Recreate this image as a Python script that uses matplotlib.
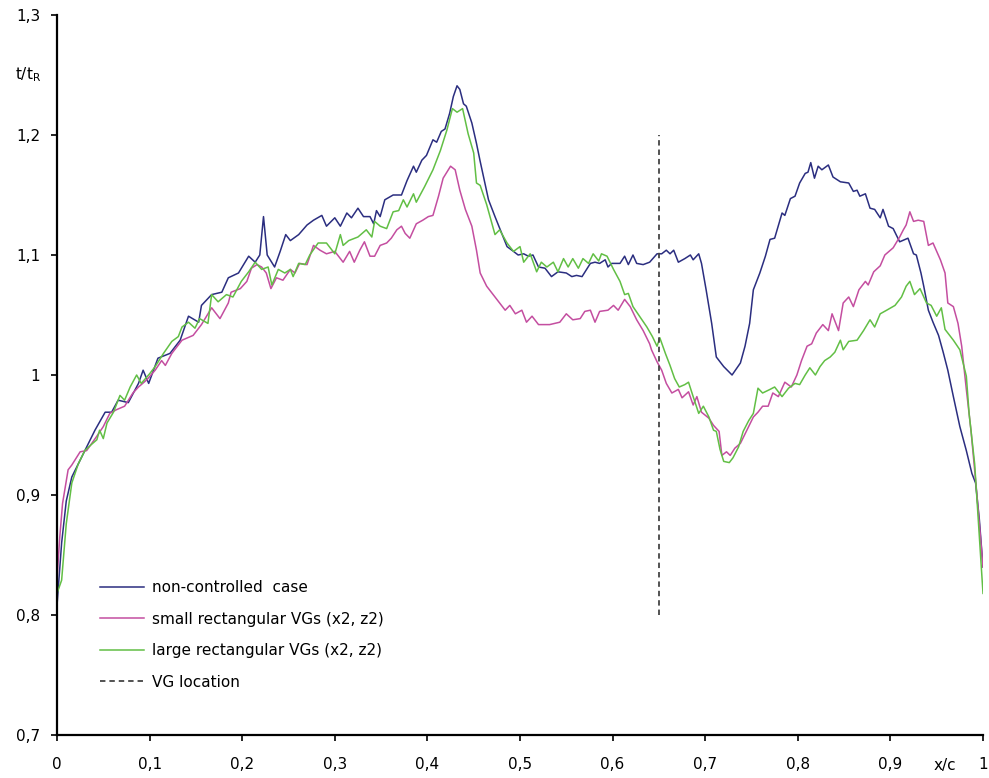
import matplotlib
matplotlib.use("Agg")
import matplotlib.pyplot as plt
from matplotlib.ticker import FuncFormatter, MultipleLocator

# ---------------- data ----------------
blue_x = [0.000, 0.005, 0.010, 0.016, 0.025, 0.034, 0.041, 0.052, 0.059, 0.066, 0.077, 0.088, 0.093, 0.099,
          0.109, 0.122, 0.133, 0.142, 0.153, 0.156, 0.167, 0.178, 0.185, 0.196, 0.207, 0.214, 0.219, 0.223,
          0.227, 0.235, 0.241, 0.247, 0.252, 0.261, 0.270, 0.277, 0.286, 0.291, 0.300, 0.306, 0.313, 0.318,
          0.325, 0.331, 0.338, 0.342, 0.345, 0.349, 0.354, 0.363, 0.372, 0.378, 0.385, 0.388, 0.394, 0.399,
          0.406, 0.410, 0.415, 0.419, 0.424, 0.428, 0.432, 0.435, 0.439, 0.442, 0.448, 0.453, 0.457, 0.466,
          0.473, 0.486, 0.493, 0.498, 0.504, 0.509, 0.514, 0.520, 0.527, 0.534, 0.541, 0.550, 0.556, 0.561,
          0.567, 0.576, 0.581, 0.586, 0.592, 0.595, 0.599, 0.608, 0.613, 0.617, 0.622, 0.626, 0.633, 0.640,
          0.648, 0.653, 0.658, 0.662, 0.666, 0.671, 0.678, 0.684, 0.687, 0.693, 0.696, 0.701, 0.707, 0.712,
          0.720, 0.729, 0.738, 0.743, 0.748, 0.752, 0.759, 0.765, 0.770, 0.775, 0.783, 0.786, 0.792, 0.797,
          0.802, 0.808, 0.811, 0.814, 0.818, 0.822, 0.826, 0.833, 0.838, 0.846, 0.855, 0.860, 0.864, 0.867,
          0.873, 0.878, 0.883, 0.889, 0.892, 0.898, 0.903, 0.910, 0.919, 0.925, 0.928, 0.933, 0.936, 0.941,
          0.946, 0.952, 0.957, 0.962, 0.968, 0.975, 0.982, 0.988, 0.992, 0.996, 1.000]
blue_y = [0.808, 0.860, 0.895, 0.915, 0.929, 0.943, 0.954, 0.969, 0.969, 0.979, 0.977, 0.993, 1.004, 0.993,
          1.014, 1.018, 1.029, 1.049, 1.044, 1.058, 1.067, 1.069, 1.081, 1.085, 1.099, 1.094, 1.100, 1.132,
          1.100, 1.090, 1.103, 1.117, 1.112, 1.117, 1.125, 1.129, 1.133, 1.124, 1.131, 1.124, 1.135, 1.131,
          1.139, 1.132, 1.132, 1.126, 1.137, 1.132, 1.146, 1.150, 1.150, 1.162, 1.174, 1.169, 1.179, 1.183,
          1.196, 1.194, 1.203, 1.205, 1.218, 1.232, 1.241, 1.238, 1.226, 1.224, 1.210, 1.193, 1.178, 1.146,
          1.132, 1.107, 1.103, 1.100, 1.101, 1.099, 1.100, 1.090, 1.089, 1.082, 1.086, 1.085, 1.082, 1.083,
          1.082, 1.093, 1.094, 1.093, 1.096, 1.090, 1.093, 1.093, 1.099, 1.092, 1.100, 1.093, 1.092, 1.094,
          1.101, 1.101, 1.104, 1.101, 1.104, 1.094, 1.097, 1.100, 1.096, 1.101, 1.093, 1.071, 1.043, 1.015,
          1.007, 1.000, 1.010, 1.024, 1.043, 1.071, 1.085, 1.099, 1.113, 1.114, 1.135, 1.133, 1.147, 1.149,
          1.160, 1.168, 1.169, 1.177, 1.164, 1.174, 1.171, 1.175, 1.165, 1.161, 1.160, 1.153, 1.154, 1.149,
          1.151, 1.139, 1.138, 1.131, 1.138, 1.124, 1.122, 1.111, 1.114, 1.101, 1.100, 1.085, 1.074, 1.054,
          1.044, 1.033, 1.019, 1.004, 0.982, 0.957, 0.937, 0.918, 0.910, 0.880, 0.840]

small_x = [0.000, 0.003, 0.006, 0.012, 0.016, 0.025, 0.032, 0.043, 0.050, 0.057, 0.064, 0.073, 0.082, 0.088,
           0.097, 0.106, 0.113, 0.117, 0.124, 0.135, 0.147, 0.156, 0.167, 0.176, 0.185, 0.188, 0.198, 0.205,
           0.210, 0.216, 0.221, 0.226, 0.231, 0.237, 0.244, 0.252, 0.257, 0.262, 0.270, 0.277, 0.284, 0.291,
           0.300, 0.309, 0.316, 0.321, 0.327, 0.332, 0.338, 0.343, 0.349, 0.356, 0.361, 0.367, 0.372, 0.376,
           0.381, 0.388, 0.395, 0.401, 0.406, 0.412, 0.417, 0.425, 0.430, 0.435, 0.441, 0.448, 0.453, 0.457,
           0.464, 0.471, 0.478, 0.484, 0.489, 0.495, 0.502, 0.507, 0.513, 0.520, 0.532, 0.543, 0.550, 0.557,
           0.565, 0.570, 0.576, 0.581, 0.586, 0.595, 0.601, 0.606, 0.613, 0.619, 0.626, 0.633, 0.640, 0.642,
           0.648, 0.653, 0.658, 0.664, 0.671, 0.675, 0.682, 0.687, 0.691, 0.696, 0.704, 0.709, 0.715, 0.718,
           0.723, 0.727, 0.732, 0.738, 0.745, 0.752, 0.757, 0.762, 0.768, 0.773, 0.779, 0.786, 0.793, 0.799,
           0.804, 0.810, 0.815, 0.820, 0.827, 0.833, 0.837, 0.844, 0.849, 0.855, 0.860, 0.866, 0.873, 0.876,
           0.882, 0.889, 0.894, 0.903, 0.910, 0.914, 0.917, 0.921, 0.925, 0.930, 0.936, 0.941, 0.946, 0.954,
           0.959, 0.962, 0.968, 0.973, 0.977, 0.982, 0.987, 0.993, 1.000]
small_y = [0.830, 0.865, 0.893, 0.921, 0.925, 0.936, 0.937, 0.949, 0.957, 0.968, 0.971, 0.974, 0.985, 0.990,
           0.996, 1.004, 1.012, 1.008, 1.018, 1.029, 1.033, 1.042, 1.056, 1.047, 1.060, 1.069, 1.072, 1.078,
           1.089, 1.092, 1.090, 1.085, 1.072, 1.081, 1.079, 1.088, 1.085, 1.093, 1.092, 1.108, 1.104, 1.101,
           1.103, 1.094, 1.103, 1.094, 1.104, 1.111, 1.099, 1.099, 1.108, 1.110, 1.114, 1.121, 1.124, 1.118,
           1.114, 1.126, 1.129, 1.132, 1.133, 1.149, 1.164, 1.174, 1.171, 1.154, 1.138, 1.124, 1.104, 1.085,
           1.074, 1.067, 1.060, 1.054, 1.058, 1.051, 1.054, 1.044, 1.049, 1.042, 1.042, 1.044, 1.051, 1.046,
           1.047, 1.053, 1.054, 1.044, 1.053, 1.054, 1.058, 1.054, 1.063, 1.057, 1.046, 1.037, 1.026, 1.021,
           1.011, 1.004, 0.993, 0.985, 0.988, 0.981, 0.986, 0.975, 0.982, 0.969, 0.964, 0.958, 0.953, 0.933,
           0.936, 0.933, 0.939, 0.943, 0.954, 0.965, 0.969, 0.974, 0.974, 0.985, 0.982, 0.994, 0.990, 1.000,
           1.012, 1.024, 1.026, 1.035, 1.042, 1.037, 1.051, 1.037, 1.060, 1.065, 1.057, 1.071, 1.078, 1.075,
           1.086, 1.091, 1.100, 1.106, 1.115, 1.121, 1.125, 1.136, 1.128, 1.129, 1.128, 1.108, 1.110, 1.096,
           1.085, 1.060, 1.057, 1.043, 1.024, 0.988, 0.954, 0.904, 0.840]

large_x = [0.000, 0.005, 0.010, 0.016, 0.023, 0.030, 0.037, 0.043, 0.046, 0.050, 0.054, 0.061, 0.068, 0.073,
           0.079, 0.086, 0.091, 0.100, 0.106, 0.115, 0.124, 0.131, 0.135, 0.142, 0.149, 0.154, 0.163, 0.167,
           0.174, 0.183, 0.190, 0.199, 0.207, 0.214, 0.221, 0.228, 0.232, 0.239, 0.246, 0.252, 0.255, 0.261,
           0.268, 0.273, 0.282, 0.291, 0.300, 0.306, 0.309, 0.315, 0.325, 0.334, 0.340, 0.343, 0.349, 0.356,
           0.363, 0.369, 0.374, 0.378, 0.385, 0.388, 0.397, 0.406, 0.414, 0.421, 0.427, 0.432, 0.438, 0.444,
           0.450, 0.453, 0.457, 0.464, 0.473, 0.478, 0.486, 0.493, 0.500, 0.504, 0.511, 0.518, 0.523, 0.529,
           0.536, 0.541, 0.547, 0.552, 0.557, 0.563, 0.568, 0.574, 0.579, 0.585, 0.588, 0.594, 0.601, 0.608,
           0.613, 0.617, 0.622, 0.629, 0.637, 0.643, 0.648, 0.651, 0.657, 0.662, 0.667, 0.672, 0.678, 0.682,
           0.687, 0.693, 0.698, 0.704, 0.709, 0.712, 0.716, 0.720, 0.726, 0.730, 0.736, 0.741, 0.747, 0.752,
           0.757, 0.762, 0.770, 0.775, 0.783, 0.790, 0.797, 0.802, 0.808, 0.813, 0.819, 0.824, 0.829, 0.835,
           0.840, 0.846, 0.849, 0.855, 0.864, 0.871, 0.878, 0.883, 0.889, 0.896, 0.905, 0.912, 0.917, 0.921,
           0.926, 0.932, 0.939, 0.944, 0.950, 0.955, 0.959, 0.968, 0.975, 0.982, 0.985, 0.991, 1.000]
large_y = [0.818, 0.829, 0.876, 0.910, 0.926, 0.937, 0.942, 0.946, 0.954, 0.947, 0.960, 0.969, 0.983, 0.979,
           0.990, 1.000, 0.993, 1.001, 1.007, 1.018, 1.028, 1.032, 1.040, 1.044, 1.039, 1.047, 1.043, 1.067,
           1.061, 1.067, 1.065, 1.078, 1.086, 1.094, 1.088, 1.090, 1.075, 1.088, 1.085, 1.088, 1.082, 1.093,
           1.092, 1.100, 1.110, 1.110, 1.101, 1.117, 1.108, 1.112, 1.115, 1.121, 1.115, 1.128, 1.124, 1.122,
           1.136, 1.137, 1.146, 1.140, 1.151, 1.144, 1.157, 1.171, 1.187, 1.204, 1.222, 1.219, 1.222, 1.201,
           1.185, 1.160, 1.158, 1.142, 1.117, 1.121, 1.110, 1.103, 1.107, 1.094, 1.101, 1.086, 1.094, 1.090,
           1.094, 1.086, 1.097, 1.090, 1.097, 1.089, 1.097, 1.093, 1.101, 1.095, 1.101, 1.099, 1.088, 1.078,
           1.067, 1.068, 1.057, 1.049, 1.040, 1.032, 1.024, 1.031, 1.018, 1.008, 0.997, 0.990, 0.992, 0.994,
           0.982, 0.968, 0.974, 0.965, 0.954, 0.953, 0.938, 0.928, 0.927, 0.931, 0.940, 0.953, 0.962, 0.968,
           0.989, 0.985, 0.988, 0.990, 0.982, 0.989, 0.993, 0.992, 1.000, 1.006, 1.000, 1.007, 1.012, 1.015,
           1.019, 1.029, 1.021, 1.028, 1.029, 1.037, 1.046, 1.040, 1.051, 1.054, 1.058, 1.065, 1.074, 1.078,
           1.067, 1.072, 1.060, 1.058, 1.049, 1.056, 1.038, 1.029, 1.021, 0.999, 0.968, 0.926, 0.818]

vg_x = 0.65
vg_y = [0.8, 1.2]

labels = ["non-controlled  case", "small rectangular VGs (x2, z2)",
          "large rectangular VGs (x2, z2)", "VG location"]

# ---------------- plot ----------------
plt.rcParams['font.family'] = ['DejaVu Sans']
fig = plt.figure(figsize=(9.89, 7.78), dpi=100)
ax = fig.add_axes([57/989, 1-735/778, (983-57)/989, (735-15)/778])

lb, = ax.plot(blue_x, blue_y, color='#2b2e80', lw=1.1)
lm, = ax.plot(small_x, small_y, color='#c44ea0', lw=1.1)
lg, = ax.plot(large_x, large_y, color='#62bf45', lw=1.1)
ld, = ax.plot([vg_x, vg_x], vg_y, color='#444444', lw=1.3, ls=(0, (3, 2.2)))

ax.set_xlim(0, 1)
ax.set_ylim(0.7, 1.3)
ax.xaxis.set_major_locator(MultipleLocator(0.1))
ax.yaxis.set_major_locator(MultipleLocator(0.1))

def fmt(v, pos):
    s = f"{v:.1f}"
    if s.endswith(".0"):
        s = s[:-2]
    return s.replace(".", ",")

ax.xaxis.set_major_formatter(FuncFormatter(fmt))
ax.yaxis.set_major_formatter(FuncFormatter(fmt))
for s in ['top', 'right']:
    ax.spines[s].set_visible(False)
for s in ['left', 'bottom']:
    ax.spines[s].set_linewidth(1.6)
ax.tick_params(axis='both', direction='out', length=4, width=1.2, labelsize=11)
ax.tick_params(axis='y', pad=8)
ax.tick_params(axis='x', pad=12)

ax.text(-0.031, 0.917, r"t/t$_\mathregular{R}$", transform=ax.transAxes,
        ha='center', va='center', fontsize=11)
ax.text(0.959, -0.043, "x/c", transform=ax.transAxes, ha='center', va='center', fontsize=11)

ax.legend([lb, lm, lg, ld], labels, loc='upper left', bbox_to_anchor=(0.032, 0.234),
          frameon=False, fontsize=11, handlelength=2.85, handletextpad=0.5, labelspacing=1.08)

fig.savefig("out.png", dpi=100)
